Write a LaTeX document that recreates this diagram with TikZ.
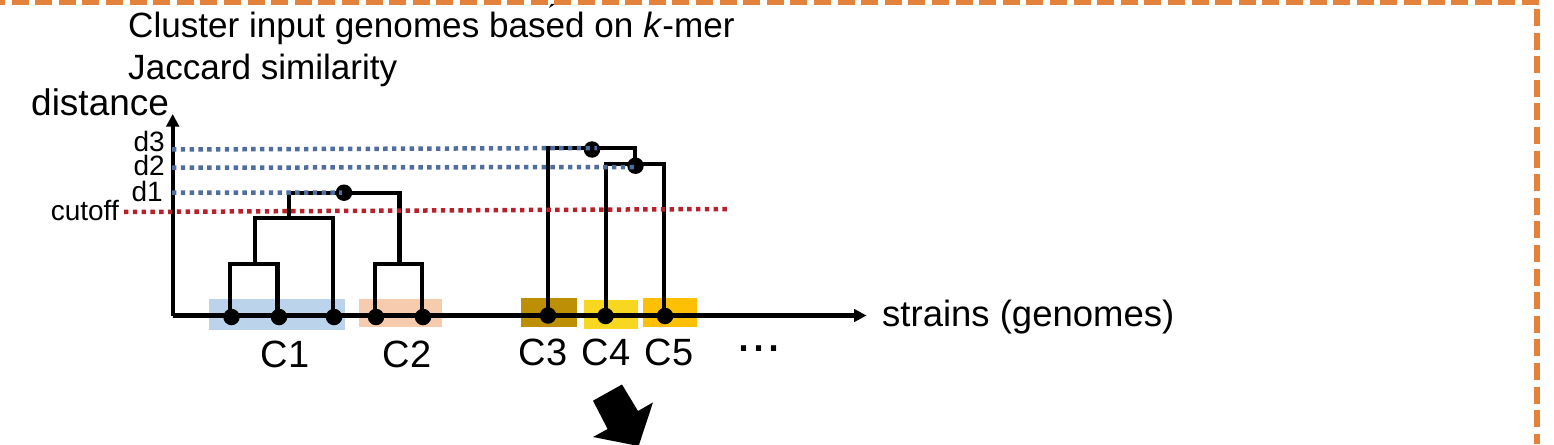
\documentclass[tikz,border=0pt]{standalone}
\usepackage{fontspec}
\setmainfont{Liberation Sans}
\usetikzlibrary{arrows.meta}
\definecolor{frameorange}{HTML}{E4813B}
\definecolor{dotblue}{HTML}{4F6D9E}
\definecolor{dotred}{HTML}{B8202B}
\definecolor{bandA}{RGB}{187,212,236}
\definecolor{bandB}{RGB}{247,203,174}
\definecolor{bandC}{RGB}{188,143,5}
\definecolor{bandD}{RGB}{248,215,32}
\definecolor{bandE}{RGB}{254,192,5}
\tikzset{
  x=1pt,y=-1pt,
  frame/.style={frameorange,line width=5.5pt,dash pattern=on 17pt off 6.6pt},
  axisarrow/.style={black,line width=4.4pt,-{Triangle[length=12.5pt,width=12.5pt]}},
  tree/.style={black,line width=4.4pt,line join=miter},
  level/.style={dotblue,line width=4.5pt,dash pattern=on 4.4pt off 4.4pt},
  cut/.style={dotred,line width=4.5pt,dash pattern=on 4.4pt off 4.4pt},
  dotnode/.style={circle,fill=black,inner sep=0pt,minimum size=16.5pt},
  txt/.style={inner sep=0pt,anchor=base west,font=\fontsize{35.1}{35.1}\selectfont},
  big/.style={inner sep=0pt,anchor=base west,font=\fontsize{37}{37}\selectfont},
  lbl/.style={inner sep=0pt,anchor=base,font=\fontsize{38}{38}\selectfont},
  small/.style={inner sep=0pt,anchor=base east,font=\fontsize{28}{28}\selectfont},
}
\begin{document}
\begin{tikzpicture}
\useasboundingbox (0,0) rectangle (1554,444);
\fill[white] (0,0) rectangle (1554,444);
% frame
\coordinate (frTR) at (1539,2); \coordinate (frTL) at (0,2);
\coordinate (frRT) at (1537,9); \coordinate (frRB) at (1537,444);
\fill[black] (551,4) -- (555,4) -- (549,8) -- cycle;
\draw[frame] (frTR) -- (frTL);
\draw[frame] (frRT) -- (frRB);
% colour bands
\fill[bandA] (209,299) rectangle (345,330);
\fill[bandB] (359,299) rectangle (442,327);
\fill[bandC] (521,298) rectangle (576.5,327);
\fill[bandD] (583.5,300) rectangle (637.5,329);
\fill[bandE] (643,298) rectangle (696.5,327);
% texts
\node[txt] (t1) at (128,37.5) {Cluster input genomes based on \textit{k}-mer};
\node[txt] (t2) at (128,79) {Jaccard similarity};
\node[big] (tdist) at (31,115) {distance};
\node[big,font=\fontsize{36.5}{36.5}\selectfont] (tstr) at (882,326) {strains (genomes)};
\node[small] (td3) at (165,151) {d3};
\node[small] (td2) at (165,175.5) {d2};
\node[small] (td1) at (163,201) {d1};
\node[small] (tcut) at (119,220) {cutoff};
\node[lbl] (c1) at (285,367) {C1};
\node[lbl] (c2) at (407,367) {C2};
\node[lbl] (c3) at (543,365) {C3};
\node[lbl] (c4) at (606,365) {C4};
\node[lbl] (c5) at (669,365) {C5};
\node[txt,font=\fontsize{54}{54}\selectfont] (more) at (736,351) {...};
% axes
\coordinate (o) at (172.7,315.5);
\coordinate (ytip) at (172.7,114);
\coordinate (xtip) at (866.5,315.5);
\draw[axisarrow] (o) -- (ytip);
\draw[axisarrow] (o) -- (xtip);
% leaves
\node[dotnode] (l1) at (231.5,317) {};
\node[dotnode] (l2) at (279,317) {};
\node[dotnode] (l3) at (334,317) {};
\node[dotnode] (l4) at (376,317) {};
\node[dotnode] (l5) at (423,317) {};
\node[dotnode] (l6) at (548,315.5) {};
\node[dotnode] (l7) at (605.5,316) {};
\node[dotnode] (l8) at (665,316) {};
% internal nodes
\node[dotnode] (n1) at (344,192.7) {};
\node[dotnode] (n3) at (592,149.5) {};
\node[dotnode] (n2) at (635.5,165.7) {};
% tree corner coordinates
\coordinate (u1) at (230,264);  \coordinate (u2) at (277.5,264);
\coordinate (u1b) at (230,317); \coordinate (u2b) at (277.5,317);
\coordinate (v1) at (254.7,218); \coordinate (v2) at (333,218);
\coordinate (v1b) at (254.7,264); \coordinate (v2b) at (333,317);
\coordinate (w1) at (289,193); \coordinate (w2) at (399.5,193);
\coordinate (w1b) at (289,218); \coordinate (w2b) at (399.5,264);
\coordinate (z1) at (375,264); \coordinate (z2) at (422,264);
\coordinate (z1b) at (375,317); \coordinate (z2b) at (422,317);
\coordinate (p1) at (548,148); \coordinate (p2) at (635,148);
\coordinate (p1b) at (548,316); \coordinate (p2b) at (635,164);
\coordinate (q1) at (605.7,164); \coordinate (q2) at (664,164);
\coordinate (q1b) at (605.7,316); \coordinate (q2b) at (664,316);
% dendrogram C1, C2
\draw[tree] (u1b) -- (u1) -- (u2) -- (u2b);
\draw[tree] (v1b) -- (v1) -- (v2) -- (v2b);
\draw[tree] (w1b) -- (w1) -- (w2) -- (w2b);
\draw[tree] (z1b) -- (z1) -- (z2) -- (z2b);
% dendrogram C3-C5
\draw[tree] (p1b) -- (p1) -- (p2) -- (p2b);
\draw[tree] (q1b) -- (q1) -- (q2) -- (q2b);
% levels
\coordinate (d3a) at (172,149.5); \coordinate (d3b) at (597,148);
\coordinate (d2a) at (172,167.7); \coordinate (d2b) at (638,167);
\coordinate (d1a) at (172,192.7); \coordinate (d1b) at (342,192.5);
\coordinate (cuta) at (124,212); \coordinate (cutb) at (727,209);
\draw[level] (d3a) -- (d3b);
\draw[level] (d2a) -- (d2b);
\draw[level] (d1a) -- (d1b);
\draw[cut] (cuta) -- (cutb);
% big arrow
\fill[black] (622,384.5) -- (638,411) -- (653,402.4) -- (638.6,446) -- (593,437) -- (607.6,429) -- (593,400.7) -- cycle;
\end{tikzpicture}
\end{document}
